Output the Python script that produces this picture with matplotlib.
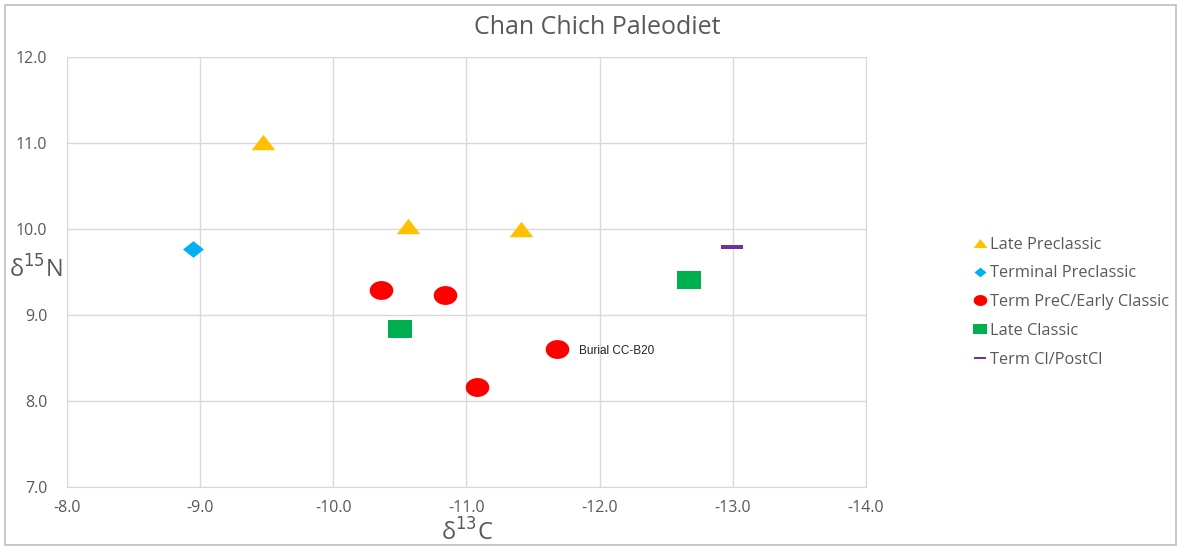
import numpy as np
import matplotlib
matplotlib.use("Agg")
import matplotlib.pyplot as plt
from matplotlib.path import Path
from matplotlib.patches import Rectangle

plt.rcParams['font.family'] = ['Open Sans', 'DejaVu Sans']

# data
late_pre_c = [-9.47, -10.56, -11.41]
late_pre_n = [11.01, 10.03, 10.00]
term_pre_c = [-8.95]
term_pre_n = [9.77]
early_cl_c = [-10.36, -10.84, -11.08, -11.68]
early_cl_n = [9.29, 9.23, 8.16, 8.60]
late_cl_c = [-10.50, -12.67]
late_cl_n = [8.84, 9.41]
post_cl_c = [-12.99]
post_cl_n = [9.79]

series = [
    ("Late Preclassic", late_pre_c, late_pre_n, "#FFC000", "tri"),
    ("Terminal Preclassic", term_pre_c, term_pre_n, "#00B0F0", "dia"),
    ("Term PreC/Early Classic", early_cl_c, early_cl_n, "#FF0000", "ell"),
    ("Late Classic", late_cl_c, late_cl_n, "#00B050", "sq"),
    ("Term Cl/PostCl", post_cl_c, post_cl_n, "#7030A0", "dash"),
]

x_ticks = [-8.0, -9.0, -10.0, -11.0, -12.0, -13.0, -14.0]
y_ticks = [7.0, 8.0, 9.0, 10.0, 11.0, 12.0]


def wide(verts):
    # markers in the picture are stretched sideways a little
    v = np.array(verts, dtype=float)
    v[:, 0] *= 1.25
    return Path(v, closed=True)


t = np.linspace(0, 2 * np.pi, 60)
markers = {
    "tri": wide([(-0.55, -0.45), (0.55, -0.45), (0, 0.45), (-0.55, -0.45)]),
    "dia": wide([(0, -0.5), (0.5, 0), (0, 0.5), (-0.5, 0), (0, -0.5)]),
    "ell": wide(np.column_stack([0.5 * np.cos(t), 0.5 * np.sin(t)])),
    "sq": wide([(-0.5, -0.5), (0.5, -0.5), (0.5, 0.5), (-0.5, 0.5), (-0.5, -0.5)]),
    "dash": Path([(-0.5, -0.09), (0.5, -0.09), (0.5, 0.09), (-0.5, 0.09), (-0.5, -0.09)], closed=True),
}
sizes = {"tri": 17, "dia": 15, "ell": 17, "sq": 17, "dash": 16}

fig = plt.figure(figsize=(11.81, 5.48), dpi=100)
fig.patches.append(Rectangle((0.004, 0.006), 0.992, 0.985, transform=fig.transFigure,
                             fill=False, edgecolor="#BFBFBF", linewidth=1.2))
ax = fig.add_axes([0.0567, 0.1113, 0.6766, 0.7847])

for name, xs, ys, col, m in series:
    ax.plot(xs, ys, linestyle="none", marker=markers[m], markersize=sizes[m],
            color=col, markeredgewidth=0, label=name)

ax.annotate("Burial CC-B20", (early_cl_c[3], early_cl_n[3]), xytext=(16, -3),
            textcoords="offset points", fontsize=8.5, family="Liberation Sans",
            color="#222222")

ax.set_xlim(-8, -14)
ax.set_ylim(7, 12)
ax.set_xticks(x_ticks)
ax.set_yticks(y_ticks)
ax.xaxis.set_major_formatter(lambda v, p: f"{v:.1f}")
ax.yaxis.set_major_formatter(lambda v, p: f"{v:.1f}")
ax.tick_params(length=0, labelsize=11.5, labelcolor="#595959", pad=9)
ax.tick_params(axis="y", pad=14)
ax.grid(True, color="#D9D9D9", linewidth=1)
ax.set_axisbelow(True)
for s in ax.spines.values():
    s.set_color("#D9D9D9")

fig.text(0.396, 0.028, r"δ$^{13}$C", fontsize=17, color="#595959", ha="center",
         va="center")
fig.text(0.030, 0.508, r"δ$^{15}$N", fontsize=17, color="#595959", ha="center",
         va="center")
fig.suptitle("Chan Chich Paleodiet", x=0.506, y=0.972, fontsize=18, color="#595959")

leg = ax.legend(loc="center left", bbox_to_anchor=(1.115, 0.43), frameon=False,
                fontsize=11.8, labelcolor="#595959", handletextpad=0.15,
                handlelength=0.9, labelspacing=0.78, markerscale=0.58)

fig.savefig("out.png", dpi=100)
